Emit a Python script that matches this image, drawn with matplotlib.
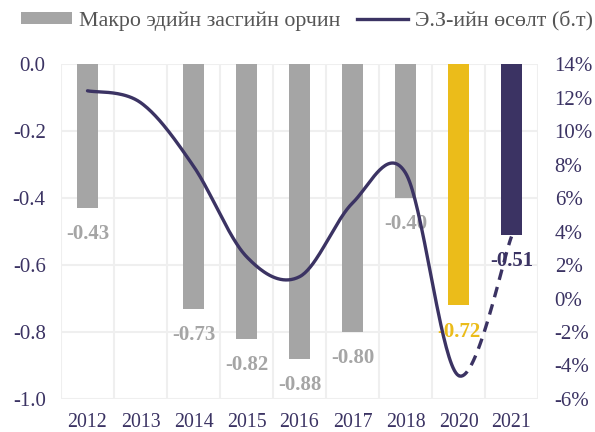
import numpy as np
import matplotlib.pyplot as plt
from matplotlib.patches import Patch
from matplotlib.lines import Line2D

years = ["2012", "2013", "2014", "2015", "2016", "2017", "2018", "2020", "2021"]
macro = [-0.43, np.nan, -0.73, -0.82, -0.88, -0.80, -0.40, -0.72, -0.51]
growth = [12.4, 11.7, 7.9, 2.5, 1.3, 5.7, 7.5, -4.6, 3.7]

gray = "#A5A5A5"
yellow = "#EBBC1A"
navy = "#3B3363"
bar_colors = [gray] * 7 + [yellow, navy]
label_colors = [gray] * 7 + [yellow, navy]

plt.rcParams["font.family"] = ["Liberation Serif", "DejaVu Serif"]

fig = plt.figure(figsize=(5.95, 4.32), dpi=100)
ax = fig.add_axes([61 / 595, 1 - 399 / 432, (538 - 61) / 595, (399 - 64) / 432])
x = np.arange(len(years))

ax.bar(x, macro, width=0.4, color=bar_colors, zorder=2)
for i, v in enumerate(macro):
    if np.isnan(v):
        continue
    ax.annotate(f"{v:.2f}", (x[i], v), xytext=(0, -19), textcoords="offset points",
                ha="center", va="center", fontsize=15, fontweight="bold",
                color=label_colors[i], zorder=3)

yt = [-1.0, -0.8, -0.6, -0.4, -0.2, 0.0]
ax.set_xlim(-0.5, len(years) - 0.5)
ax.set_ylim(-1.0, 0.0)
ax.set_yticks(yt)
ax.set_yticklabels([f"{t:.1f}" if t != 0 else "0.0" for t in yt])
ax.set_xticks(x)
ax.set_xticklabels(years)
ax.tick_params(axis="y", length=0, pad=11, labelsize=15, labelcolor=navy)
ax.tick_params(axis="x", length=0, pad=10, labelsize=14.3, labelcolor=navy)
for t in yt:
    ax.axhline(t, color="#EFEFEF", lw=1.5, zorder=0)
for b in np.arange(-0.5, len(years), 1.0):
    ax.axvline(b, color="#EFEFEF", lw=1.5, zorder=0)
for s in ax.spines.values():
    s.set_visible(False)

# second axis: growth line, smoothed like the original
ax2 = ax.twinx()
ax2.set_ylim(-6, 14)
ax2.set_yticks(np.arange(-6, 15, 2))
ax2.set_yticklabels([f"{t}%" for t in range(-6, 15, 2)])
ax2.tick_params(axis="y", length=0, pad=12, labelsize=15, labelcolor=navy)
for s in ax2.spines.values():
    s.set_visible(False)

xs = x.astype(float)
ys = np.array(growth, dtype=float)
n = len(xs)


def segment(i, steps=40):
    p0 = np.array([xs[max(i - 1, 0)], ys[max(i - 1, 0)]])
    p1 = np.array([xs[i], ys[i]])
    p2 = np.array([xs[i + 1], ys[i + 1]])
    p3 = np.array([xs[min(i + 2, n - 1)], ys[min(i + 2, n - 1)]])
    c1 = p1 + (p2 - p0) / 6
    c2 = p2 - (p3 - p1) / 6
    t = np.linspace(0, 1, steps)[:, None]
    pts = (1 - t) ** 3 * p1 + 3 * (1 - t) ** 2 * t * c1 + 3 * (1 - t) * t ** 2 * c2 + t ** 3 * p2
    return pts


solid = np.vstack([segment(i) for i in range(n - 2)])
dashed = segment(n - 2)
ax2.plot(solid[:, 0], solid[:, 1], color=navy, lw=2.4, solid_capstyle="round", zorder=4)
ax2.plot(dashed[:, 0], dashed[:, 1], color=navy, lw=2.4, ls=(0, (3.2, 2.2)), zorder=4)

handles = [Patch(facecolor=gray, edgecolor="none"),
           Line2D([0], [0], color=navy, lw=2.4)]
fig.legend(handles, ["Макро эдийн засгийн орчин", "Э.З-ийн өсөлт (б.т)"],
           loc="center", bbox_to_anchor=(307 / 595, 1 - 21 / 432), ncol=2, frameon=False,
           fontsize=15.8, labelcolor="#555555", handlelength=2.3, handleheight=0.5,
           columnspacing=0.8, handletextpad=0.3)

fig.savefig("out.png", dpi=100)
